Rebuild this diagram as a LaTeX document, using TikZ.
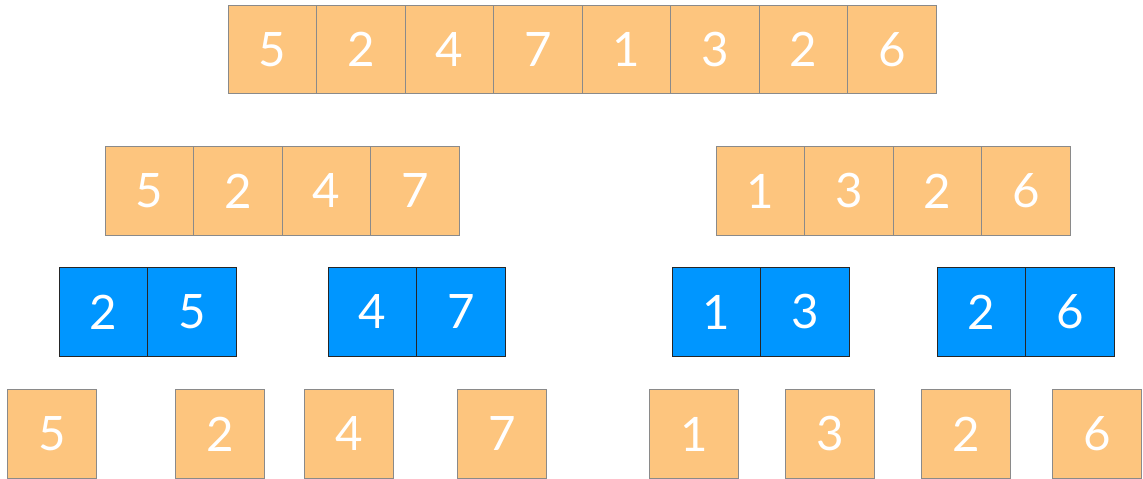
\documentclass[tikz,border=0pt]{standalone}
\usepackage{fontspec}
\setmainfont{Lato}
\usepackage{xcolor}
\usepackage{tikz}
\usetikzlibrary{positioning}
\definecolor{cellorange}{HTML}{FDC57E}
\definecolor{cellblue}{HTML}{0096FF}
\definecolor{cellgray}{HTML}{8A8A8A}

\begin{document}
\begin{tikzpicture}[x=0.02cm, y=-0.02cm, node distance=0pt,
    every node/.style={font=\fontsize{27}{27}\selectfont, text=white,
      minimum size=1.77cm, inner sep=0pt, outer sep=0pt, line width=0.6pt},
    numcell/.style={draw=cellgray, fill=cellorange},
    mergedcell/.style={draw=black!85, fill=cellblue}]
  \useasboundingbox (0,0) rectangle (1143,479);

  % Top row: the whole array
  \node[numcell] (t1) at (272.5,49.5) {5};
  \node[numcell, right=of t1] (t2) {2};
  \node[numcell, right=of t2] (t3) {4};
  \node[numcell, right=of t3] (t4) {7};
  \node[numcell, right=of t4] (t5) {1};
  \node[numcell, right=of t5] (t6) {3};
  \node[numcell, right=of t6] (t7) {2};
  \node[numcell, right=of t7] (t8) {6};

  % Second row: the two halves
  \node[numcell] (h1) at (149.5,191) {5};
  \node[numcell, right=of h1] (h2) {2};
  \node[numcell, right=of h2] (h3) {4};
  \node[numcell, right=of h3] (h4) {7};
  \node[numcell] (h5) at (760.5,191) {1};
  \node[numcell, right=of h5] (h6) {3};
  \node[numcell, right=of h6] (h7) {2};
  \node[numcell, right=of h7] (h8) {6};

  % Third row: merged pairs
  \node[mergedcell] (p1) at (103.5,312) {2};
  \node[mergedcell, right=of p1] (p2) {5};
  \node[mergedcell] (p3) at (372.5,312) {4};
  \node[mergedcell, right=of p3] (p4) {7};
  \node[mergedcell] (p5) at (716.5,312) {1};
  \node[mergedcell, right=of p5] (p6) {3};
  \node[mergedcell] (p7) at (981.5,312) {2};
  \node[mergedcell, right=of p7] (p8) {6};

  % Bottom row: single elements
  \node[numcell] (s1) at (52,434) {5};
  \node[numcell] (s2) at (220,434) {2};
  \node[numcell] (s3) at (349,434) {4};
  \node[numcell] (s4) at (502,434) {7};
  \node[numcell] (s5) at (694,434) {1};
  \node[numcell] (s6) at (830,434) {3};
  \node[numcell] (s7) at (966,434) {2};
  \node[numcell] (s8) at (1097,434) {6};
\end{tikzpicture}
\end{document}
